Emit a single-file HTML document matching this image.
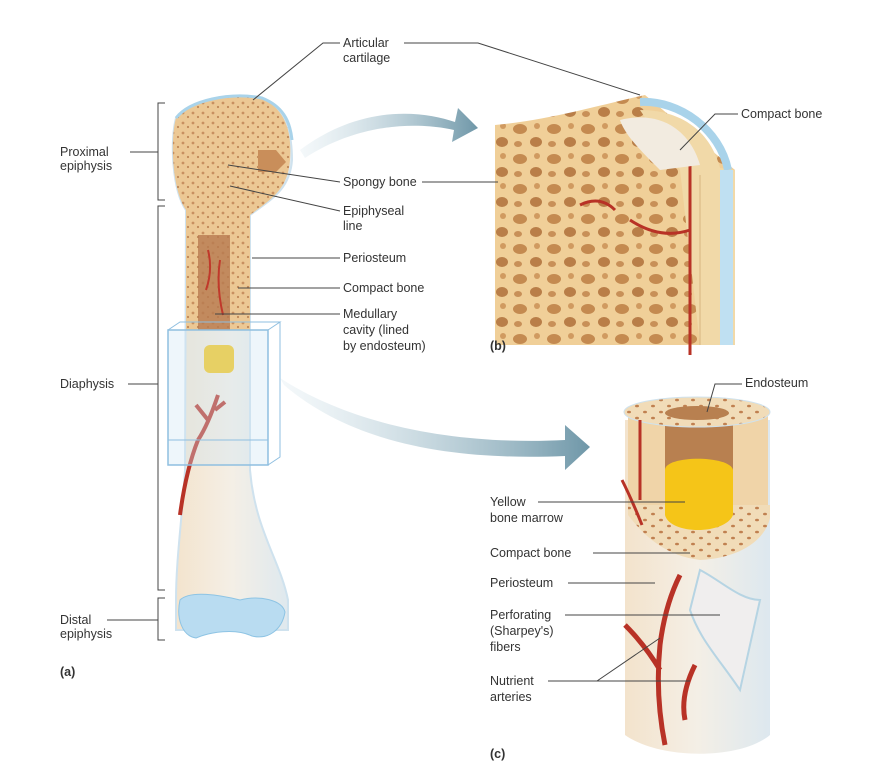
<!DOCTYPE html>
<html><head><meta charset="utf-8"><style>
body{margin:0;background:#fff;}
svg{display:block;}
text{font-family:"Liberation Sans",Arial,sans-serif;font-size:12.5px;fill:#333;}
.b{font-weight:bold;}
line,polyline{stroke:#444;stroke-width:1;fill:none;}
</style></head><body>
<svg width="879" height="781" viewBox="0 0 879 781" xmlns="http://www.w3.org/2000/svg">
<defs>
<pattern id="sp" width="10" height="10" patternUnits="userSpaceOnUse">
<rect width="10" height="10" fill="#ecc894"/>
<circle cx="3" cy="3" r="1.4" fill="#c89060"/><circle cx="8" cy="7" r="1.1" fill="#c08858"/>
</pattern>
<pattern id="sb" width="34" height="30" patternUnits="userSpaceOnUse">
<rect width="34" height="30" fill="#f0cf98"/>
<ellipse cx="10" cy="9" rx="7" ry="5" fill="#c48a50"/>
<ellipse cx="26" cy="22" rx="6" ry="5" fill="#b97e48"/>
<ellipse cx="27" cy="6" rx="3" ry="3" fill="#d09a60"/>
<ellipse cx="8" cy="24" rx="4" ry="3" fill="#c89058"/>
</pattern>
<pattern id="cp" width="16" height="12" patternUnits="userSpaceOnUse">
<rect width="16" height="12" fill="#f1dcb8"/><ellipse cx="5" cy="4" rx="2" ry="1.3" fill="#c08050"/>
<ellipse cx="13" cy="10" rx="2" ry="1.3" fill="#c08050"/></pattern>
<linearGradient id="ar" x1="0" x2="1"><stop offset="0" stop-color="#c9dde6" stop-opacity="0.2"/><stop offset="1" stop-color="#6f97a8"/></linearGradient>
<linearGradient id="sh" x1="0" x2="1"><stop offset="0" stop-color="#f3e3cc"/><stop offset="0.5" stop-color="#f4efe6"/><stop offset="1" stop-color="#dde8ef"/></linearGradient>
</defs>

<!-- brackets -->
<polyline points="165,103 158,103 158,200 165,200"/><line x1="130" y1="152" x2="158" y2="152"/>
<polyline points="165,206 158,206 158,590 165,590"/><line x1="128" y1="384" x2="158" y2="384"/>
<polyline points="165,598 158,598 158,640 165,640"/><line x1="107" y1="620" x2="158" y2="620"/>
<text x="60" y="156">Proximal</text><text x="60" y="170">epiphysis</text>
<text x="60" y="388">Diaphysis</text>
<text x="60" y="624">Distal</text><text x="60" y="638">epiphysis</text>
<text x="60" y="676" class="b">(a)</text>

<!-- bone a -->
<path d="M176,600 C176,560 182,520 185,470 L186,210 C172,190 170,140 176,118 C190,100 230,92 262,98 C285,110 292,130 292,160 C290,190 270,200 250,215 L250,470 C255,530 280,560 288,600 L288,630 L176,630 Z" fill="url(#sh)" stroke="#cfe2ee" stroke-width="2"/>
<path d="M186,330 L186,210 C172,190 170,140 176,118 C190,100 230,92 262,98 C285,110 292,130 290,160 C288,190 270,200 250,215 L250,330 Z" fill="url(#sp)"/>
<path d="M176,118 C190,100 230,92 262,98 C282,106 290,120 292,140" fill="none" stroke="#a9d3ea" stroke-width="3"/>
<rect x="198" y="235" width="32" height="95" fill="#b87a50" opacity="0.8"/>
<path d="M208,250 q5,20 -2,40 M220,260 q-4,25 3,55" stroke="#c0392b" stroke-width="2" fill="none"/>
<path d="M258,150 h18 l10,12 l-10,10 h-18 z" fill="#c98e5a"/>
<rect x="204" y="345" width="30" height="28" rx="6" fill="#f5c518"/>
<path d="M218,395 q-10,30 -20,45 M208,420 l-12,-15 M215,410 l10,-8 M198,440 q-12,30 -18,75" stroke="#b83226" stroke-width="4" fill="none"/>
<path d="M180,600 C190,590 220,595 240,600 C260,595 282,600 285,612 C282,630 268,640 252,636 C235,628 210,632 196,638 C182,636 176,618 180,600 Z" fill="#b9dcf1" stroke="#8ec4e4"/>
<rect x="168" y="330" width="100" height="135" fill="#cfe4f3" fill-opacity="0.35" stroke="#8fbfe0" stroke-width="1.5"/>
<path d="M168,330 l12,-8 h100 l-12,8 M268,465 l12,-8 v-135 M168,440 h100" stroke="#8fbfe0" fill="none"/>

<!-- arrows -->
<path d="M300,150 C360,105 420,110 455,122 L458,108 L478,128 L452,142 L454,130 C420,122 360,122 305,158 Z" fill="url(#ar)"/>
<path d="M280,378 C360,430 470,445 565,440 L565,425 L590,447 L565,470 L565,456 C470,460 360,450 284,385 Z" fill="url(#ar)"/>

<!-- panel b -->
<path d="M495,125 C550,120 600,105 645,95 L735,170 L735,345 L495,345 Z" fill="url(#sb)"/>
<path d="M640,110 C680,110 710,130 720,168 L735,170 L735,345 L700,345 L680,170 C660,140 650,125 640,110 Z" fill="#f1d9a8"/>
<path d="M640,102 C680,100 720,130 728,170" stroke="#a9d3ea" stroke-width="8" fill="none"/>
<rect x="720" y="170" width="13" height="175" fill="#bfe0f2"/>
<path d="M700,175 L700,345" stroke="#d8b580"/>
<path d="M690,160 V355 M690,230 q-30,10 -60,-10 M580,205 q20,-10 35,5" stroke="#b83226" stroke-width="3" fill="none"/>
<path d="M620,120 C660,110 690,130 700,165 L660,170 C640,150 625,135 620,120Z" fill="#f2ebe0"/>
<text x="490" y="350" class="b">(b)</text>

<!-- panel c -->
<path d="M625,420 L625,735 C660,760 740,760 770,735 L770,420 Z" fill="url(#sh)"/>
<rect x="628" y="415" width="140" height="100" fill="#f0d4a8"/>
<rect x="665" y="420" width="68" height="70" fill="#b88050"/>
<ellipse cx="697" cy="412" rx="73" ry="15" fill="url(#cp)" stroke="#cfe2ee"/>
<ellipse cx="697" cy="413" rx="32" ry="7" fill="#b88050"/>
<path d="M628,515 C640,530 660,555 700,560 C740,558 765,540 770,518 L770,505 L628,505 Z" fill="url(#cp)"/>
<path d="M665,470 C665,455 730,455 733,470 L733,515 C725,535 670,535 665,515 Z" fill="#f5c518"/>
<path d="M640,420 V500 M622,480 q10,20 20,45" stroke="#b83226" stroke-width="3" fill="none"/>
<path d="M700,570 C720,580 740,600 760,600 L740,690 C720,660 700,640 690,610 Z" fill="#f0eeee" stroke="#b6d4e3" stroke-width="2"/>
<path d="M680,575 q-15,30 -20,70 q-5,50 5,100 M625,625 q20,20 35,45 M695,665 q-15,30 -10,55" stroke="#b83226" stroke-width="5" fill="none"/>
<text x="490" y="758" class="b">(c)</text>

<!-- labels -->
<text x="343" y="47">Articular</text><text x="343" y="62">cartilage</text>
<polyline points="253,100 323,43 340,43"/><polyline points="404,43 478,43 640,95"/>
<text x="741" y="118">Compact bone</text><polyline points="680,150 715,114 738,114"/>
<text x="343" y="186">Spongy bone</text><line x1="228" y1="165" x2="340" y2="182"/><line x1="422" y1="182" x2="498" y2="182"/>
<text x="343" y="215">Epiphyseal</text><text x="343" y="230">line</text><line x1="230" y1="186" x2="340" y2="211"/>
<text x="343" y="262">Periosteum</text><line x1="252" y1="258" x2="340" y2="258"/>
<text x="343" y="292">Compact bone</text><line x1="238" y1="288" x2="340" y2="288"/>
<text x="343" y="318">Medullary</text><text x="343" y="334">cavity (lined</text><text x="343" y="350">by endosteum)</text><line x1="215" y1="314" x2="340" y2="314"/>
<text x="745" y="387">Endosteum</text><polyline points="707,412 715,384 742,384"/>
<text x="490" y="506">Yellow</text><text x="490" y="522">bone marrow</text><line x1="538" y1="502" x2="685" y2="502"/>
<text x="490" y="557">Compact bone</text><line x1="593" y1="553" x2="690" y2="553"/>
<text x="490" y="587">Periosteum</text><line x1="568" y1="583" x2="655" y2="583"/>
<text x="490" y="619">Perforating</text><text x="490" y="635">(Sharpey's)</text><text x="490" y="651">fibers</text><line x1="565" y1="615" x2="720" y2="615"/>
<text x="490" y="685">Nutrient</text><text x="490" y="701">arteries</text><line x1="548" y1="681" x2="690" y2="681"/><line x1="597" y1="681" x2="660" y2="638"/>
</svg>
</body></html>
